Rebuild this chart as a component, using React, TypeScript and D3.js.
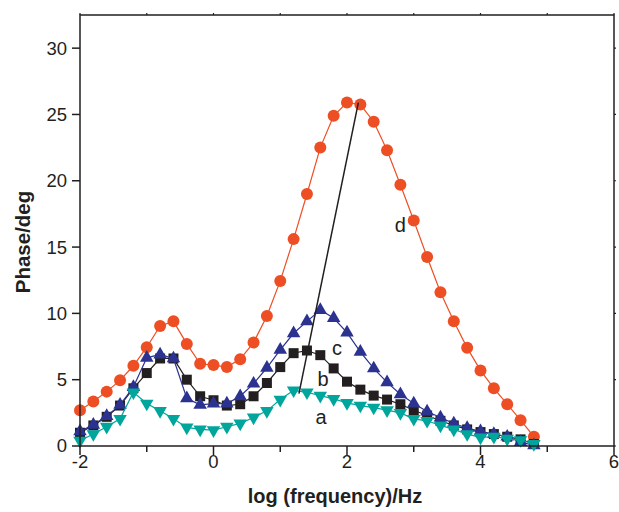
import React from "react";
import * as d3 from "d3";

const xValues: number[] = [
  -2, -1.8, -1.6, -1.4, -1.2, -1, -0.8, -0.6, -0.4, -0.2, 0, 0.2, 0.4, 0.6, 0.8, 1, 1.2, 1.4, 1.6, 1.8,
  2, 2.2, 2.4, 2.6, 2.8, 3, 3.2, 3.4, 3.6, 3.8, 4, 4.2, 4.4, 4.6, 4.8,
];

const seriesA: number[] = [
  0.4, 0.9, 1.45, 2.05, 4.05, 3.2, 2.65, 2.05, 1.4, 1.25, 1.2, 1.45, 1.7, 2.15, 2.65, 3.5, 4.2, 4.05, 3.8, 3.55,
  3.25, 3.05, 2.9, 2.7, 2.5, 2.05, 1.9, 1.55, 1.25, 0.9, 0.65, 0.7, 0.55, 0.45, 0.15,
];
const seriesB: number[] = [
  1.0, 1.55, 2.2, 3.05, 4.35, 5.5, 6.6, 6.6, 5.0, 3.75, 3.45, 3.05, 3.15, 3.75, 4.75, 5.95, 7.0, 7.2, 6.85, 5.85,
  4.85, 4.25, 3.8, 3.5, 3.15, 2.7, 2.3, 1.9, 1.55, 1.25, 1.05, 0.9, 0.7, 0.5, 0.15,
];
const seriesC: number[] = [
  1.1, 1.6, 2.25, 3.1, 4.45, 6.65, 6.9, 6.6, 3.6, 3.1, 3.2, 3.2, 3.75, 4.7, 5.9, 7.25, 8.5, 9.4, 10.25, 9.65,
  8.55, 7.1, 5.85, 4.8, 3.9, 3.2, 2.6, 2.15, 1.7, 1.35, 1.1, 0.9, 0.7, 0.3, 0.05,
];
const seriesD: number[] = [
  2.7, 3.35, 4.1, 4.95, 6.05, 7.45, 9.05, 9.4, 7.7, 6.2, 6.1, 5.95, 6.55, 7.8, 9.8, 12.45, 15.6, 19.0, 22.5, 24.9,
  25.9, 25.75, 24.45, 22.3, 19.7, 17.0, 14.25, 11.6, 9.4, 7.4, 5.7, 4.35, 3.15, 1.95, 0.7,
];

const guideLineX: number[] = [1.28, 2.17];
const guideLineY: number[] = [3.95, 25.9];

const xTicks: number[] = [-2, 0, 2, 4, 6];
const xMinorTicks: number[] = [-1, 1, 3, 5];
const yTicks: number[] = [0, 5, 10, 15, 20, 25, 30];

const labels: { text: string; x: number; y: number }[] = [
  { text: "d", x: 2.8, y: 16.7 },
  { text: "c", x: 1.85, y: 7.36 },
  { text: "b", x: 1.64, y: 5.07 },
  { text: "a", x: 1.61, y: 2.19 },
];

const W = 619;
const H = 512;
const left = 80;
const right = 614;
const top = 15;
const bottom = 446;

export default function App() {
  const x = d3.scaleLinear().domain([-2, 6]).range([left, right]);
  const y = d3.scaleLinear().domain([0, 32.5]).range([bottom, top]);
  const line = d3
    .line<[number, number]>()
    .x((d) => x(d[0]))
    .y((d) => y(d[1]));
  const pts = (s: number[]) => xValues.map((xv, i) => [xv, s[i]] as [number, number]);

  const ink = "#231f20";
  const red = "#ee4e23";
  const blue = "#2b3290";
  const teal = "#00a59b";
  const font = "'Liberation Sans', Arial, sans-serif";

  const tri = (cx: number, cy: number, s: number, up: boolean) => {
    const h = (s * Math.sqrt(3)) / 2;
    if (up) {
      return `M${cx},${cy - (2 * h) / 3}L${cx + s / 2},${cy + h / 3}L${cx - s / 2},${cy + h / 3}Z`;
    }
    return `M${cx},${cy + (2 * h) / 3}L${cx + s / 2},${cy - h / 3}L${cx - s / 2},${cy - h / 3}Z`;
  };

  return (
    <svg
      width={W}
      height={H}
      style={{ position: "absolute", left: 0, top: 0, background: "#fff" }}
      fontFamily={font}
    >
      <rect x={0} y={0} width={W} height={H} fill="#fff" />
      {/* series d */}
      <path d={line(pts(seriesD)) || ""} fill="none" stroke={red} strokeWidth={1.2} />
      {pts(seriesD).map((p, i) => (
        <circle key={"d" + i} cx={x(p[0])} cy={y(p[1])} r={6} fill={red} />
      ))}
      {/* series b */}
      <path d={line(pts(seriesB)) || ""} fill="none" stroke={ink} strokeWidth={1.2} />
      {pts(seriesB).map((p, i) => (
        <rect key={"b" + i} x={x(p[0]) - 5} y={y(p[1]) - 5} width={10} height={10} fill={ink} />
      ))}
      {/* series c */}
      <path d={line(pts(seriesC)) || ""} fill="none" stroke={blue} strokeWidth={1.2} />
      {pts(seriesC).map((p, i) => (
        <path key={"c" + i} d={tri(x(p[0]), y(p[1]), 13.5, true)} fill={blue} />
      ))}
      {/* series a */}
      <path d={line(pts(seriesA)) || ""} fill="none" stroke={teal} strokeWidth={1.2} />
      {pts(seriesA).map((p, i) => (
        <path key={"a" + i} d={tri(x(p[0]), y(p[1]), 13.5, false)} fill={teal} />
      ))}
      {/* guide line */}
      <line
        x1={x(guideLineX[0])}
        y1={y(guideLineY[0])}
        x2={x(guideLineX[1])}
        y2={y(guideLineY[1])}
        stroke={ink}
        strokeWidth={1.5}
      />
      {/* labels */}
      {labels.map((l) => (
        <text
          key={l.text}
          x={x(l.x)}
          y={y(l.y)}
          dy="0.35em"
          textAnchor="middle"
          fontSize={20}
          fill={ink}
        >
          {l.text}
        </text>
      ))}
      {/* frame */}
      <rect
        x={left}
        y={top}
        width={right - left}
        height={bottom - top}
        fill="none"
        stroke={ink}
        strokeWidth={1.5}
      />
      {/* x ticks */}
      {xTicks.map((t) => (
        <g key={"xt" + t}>
          <line x1={x(t)} x2={x(t)} y1={bottom} y2={bottom + 9} stroke={ink} strokeWidth={1.5} />
          <line x1={x(t)} x2={x(t)} y1={top} y2={top - 2} stroke={ink} strokeWidth={1.2} />
          <text x={x(t)} y={bottom + 22} textAnchor="middle" fontSize={18.5} fill={ink}>
            {t}
          </text>
        </g>
      ))}
      {xMinorTicks.map((t) => (
        <g key={"xm" + t}>
          <line x1={x(t)} x2={x(t)} y1={bottom} y2={bottom + 6} stroke={ink} strokeWidth={1.5} />
          <line x1={x(t)} x2={x(t)} y1={top} y2={top - 2} stroke={ink} strokeWidth={1.2} />
        </g>
      ))}
      {/* y ticks */}
      {yTicks.map((t) => (
        <g key={"yt" + t}>
          <line x1={left} x2={left - 8} y1={y(t)} y2={y(t)} stroke={ink} strokeWidth={1.5} />
          <line x1={right} x2={right + 2} y1={y(t)} y2={y(t)} stroke={ink} strokeWidth={1.2} />
          <text x={left - 13} y={y(t)} dy="0.35em" textAnchor="end" fontSize={18.5} fill={ink}>
            {t}
          </text>
        </g>
      ))}
      {/* axis titles */}
      <text x={335} y={503} textAnchor="middle" fontSize={20} fontWeight="bold" fill={ink}>
        log (frequency)/Hz
      </text>
      <text
        transform={`translate(30,${242}) rotate(-90)`}
        textAnchor="middle"
        fontSize={20.5}
        fontWeight="bold"
        fill={ink}
      >
        Phase/deg
      </text>
    </svg>
  );
}
